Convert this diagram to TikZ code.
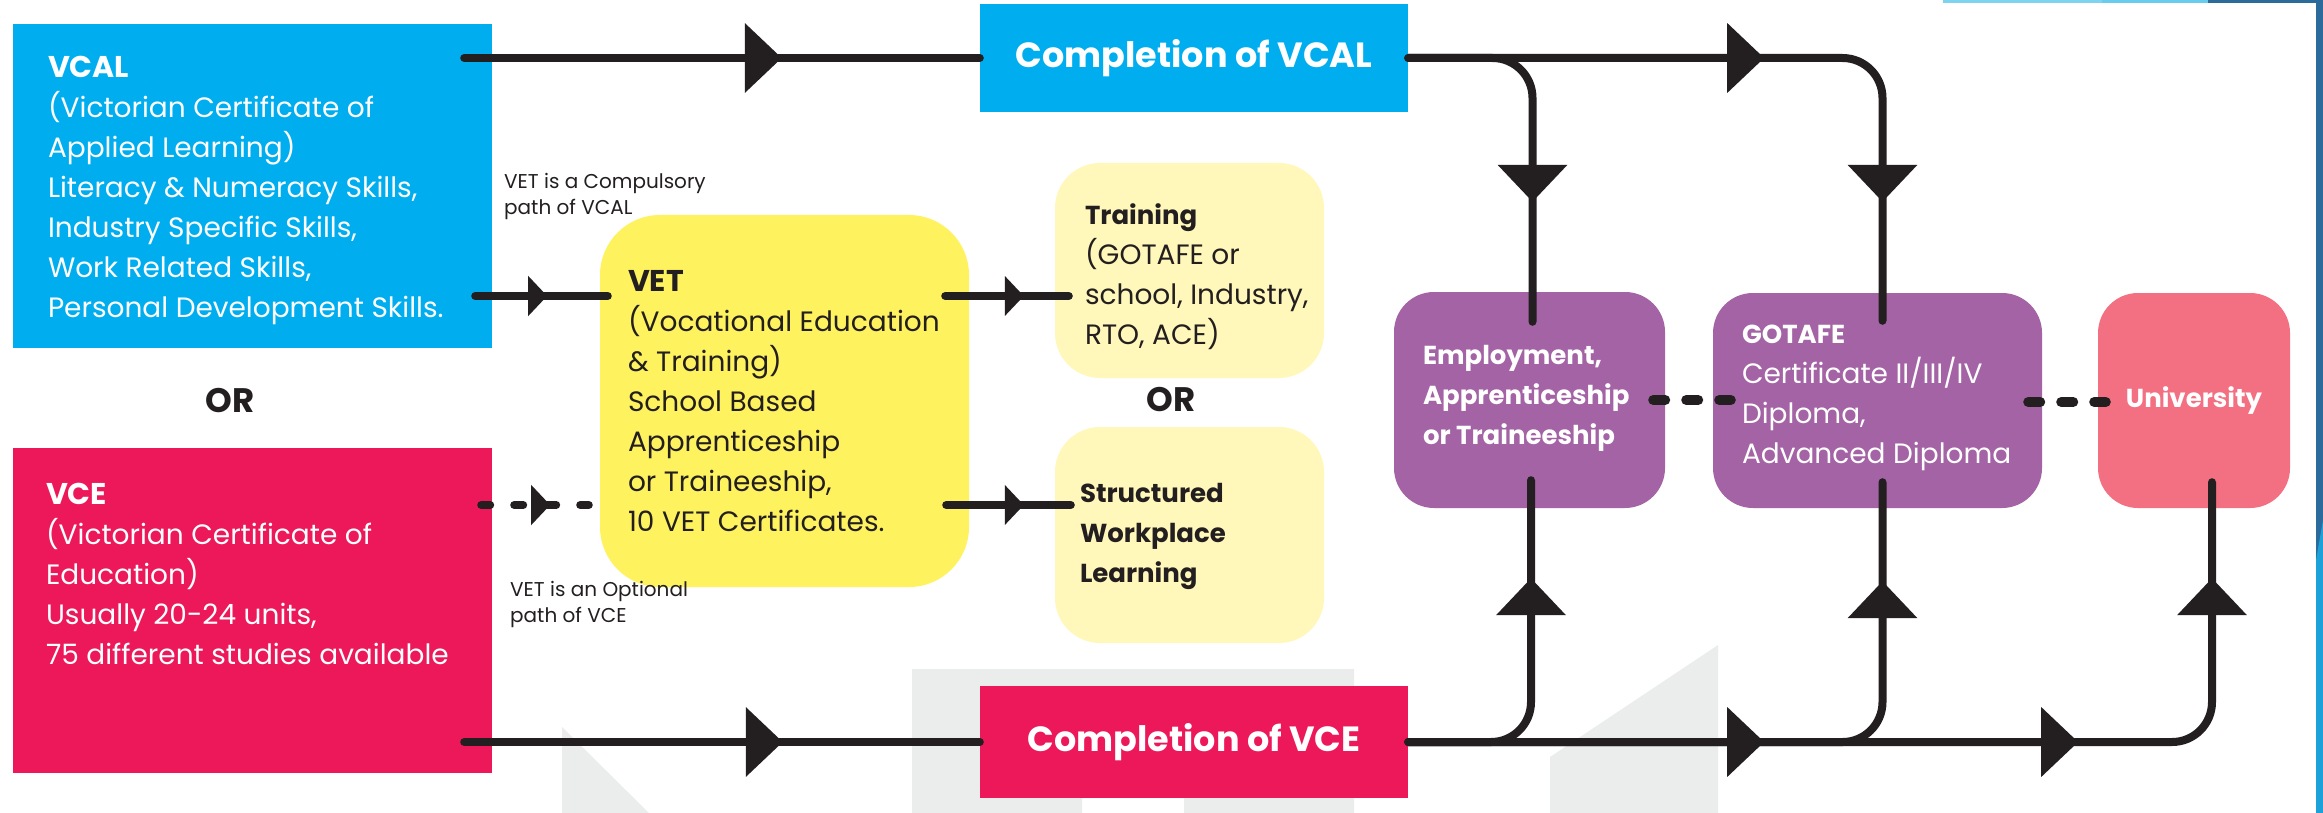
\documentclass[tikz,border=0pt]{standalone}
\usepackage{fontspec}
\setmainfont{Poppins}
\usetikzlibrary{arrows.meta,decorations.markings}

\definecolor{vcalblue}{HTML}{00AEEF}
\definecolor{vcepink}{HTML}{EC185A}
\definecolor{vetyellow}{HTML}{FFF25F}
\definecolor{paleyellow}{HTML}{FFF8BA}
\definecolor{plum}{HTML}{A363A5}
\definecolor{unirose}{HTML}{F27081}
\definecolor{ink}{HTML}{231F20}
\definecolor{ghost}{HTML}{EBEDEC}
\definecolor{edgedark}{HTML}{2A6B9C}
\definecolor{edgelight}{HTML}{1DA1D9}
\definecolor{edgepale}{HTML}{7DD3F0}
\definecolor{edgemid}{HTML}{67CCEE}

\newcommand\boxtitle[1]{{\fontsize{30}{40}\selectfont\bfseries #1}}
\newcommand\boldline[1]{{\fontsize{26}{40}\selectfont\bfseries #1}}

\tikzset{
  card/.style={rectangle, inner sep=0pt},
  words/.style={inner sep=0pt, align=left, font=\fontsize{28}{40}\selectfont},
  boldwords/.style={words, font=\fontsize{26}{40}\selectfont\bfseries},
  flow/.style={draw=ink, line width=8pt, line cap=round},
  bigtip/.style={postaction={decorate, decoration={markings,
      mark=at position #1 with {\arrow{Triangle[length=37pt, width=68pt]}}}}},
  smalltip/.style={postaction={decorate, decoration={markings,
      mark=at position #1 with {\arrow{Triangle[length=19pt, width=39pt]}}}}},
  dotlink/.style={draw=ink, line width=10pt, line cap=round, dash pattern=on 12pt off 21pt},
  note/.style={inner sep=0pt, align=left, text=ink, font=\fontsize{20}{26}\selectfont},
  ortext/.style={text=ink, font=\fontsize{34}{36}\selectfont\bfseries},
  banner/.style={card, text=white, font=\fontsize{35}{40}\selectfont\bfseries},
}

\begin{document}
\begin{tikzpicture}[x=1pt, y=-1pt]
%%% page and watermark %%%
\fill[white] (0,0) rectangle (2323,813);
\fill[ghost] (562,727) -- (649,813) -- (562,813) -- cycle;
\fill[ghost] (912,669) -- (1354,669) -- (1354,813) -- (1184,813) -- (1184,798)
  -- (1082,798) -- (1082,813) -- (912,813) -- cycle;
\fill[ghost] (1550,757) -- (1718,645) -- (1718,813) -- (1550,813) -- cycle;
\fill[edgedark] (2316,0) rectangle (2323,813);
\fill[edgelight] (2316,560) -- (2323,520) -- (2323,813) -- (2316,813) -- cycle;
\fill[edgepale] (1943,0) rectangle (2102,3.5);
\fill[edgemid] (2102,0) rectangle (2208,3.5);
\fill[edgedark] (2208,0) rectangle (2323,3.5);

%%% boxes %%%
\node[card, fill=vcalblue, minimum width=479pt, minimum height=324pt] (vcal) at (252.5,186) {};
\node[card, fill=vcepink, minimum width=479pt, minimum height=325pt] (vce) at (252.5,610.5) {};
\node[card, fill=vetyellow, rounded corners=60pt, minimum width=369pt, minimum height=372pt] (vet) at (784.5,401) {};
\node[card, fill=paleyellow, rounded corners=45pt, minimum width=269pt, minimum height=215pt] (training) at (1189.5,270.5) {};
\node[card, fill=paleyellow, rounded corners=45pt, minimum width=269pt, minimum height=216pt] (structured) at (1189.5,535) {};
\node[card, fill=plum, rounded corners=40pt, minimum width=271pt, minimum height=216pt] (employ) at (1529.5,400) {};
\node[card, fill=plum, rounded corners=40pt, minimum width=329pt, minimum height=215pt] (gotafe) at (1877.5,400.5) {};
\node[card, fill=unirose, rounded corners=40pt, minimum width=192pt, minimum height=215pt, text=white,
  font=\fontsize{26}{30}\selectfont\bfseries] (univ) at (2194,400.5) {University};
\node[banner, fill=vcalblue, minimum width=428pt, minimum height=108pt] (cvcal) at (1194,58) {Completion of VCAL};
\node[banner, fill=vcepink, minimum width=428pt, minimum height=112pt] (cvce) at (1194,742) {Completion of VCE};

%% box texts
\node[words, text=white, anchor=west] (vcal-text) at ([shift={(35,4)}]vcal.west)
  {\boxtitle{VCAL}\\(Victorian Certificate of\\Applied Learning)\\Literacy \& Numeracy Skills,\\
   Industry Specific Skills,\\Work Related Skills,\\Personal Development Skills.};
\node[words, text=white, anchor=north west] (vce-text) at ([shift={(33,35)}]vce.north west)
  {\boxtitle{VCE}\\(Victorian Certificate of\\Education)\\Usually 20-24 units,\\75 different studies available};
\node[words, text=ink, anchor=west] (vet-text) at ([shift={(28,0)}]vet.west)
  {\boxtitle{VET}\\(Vocational Education\\\& Training)\\School Based\\Apprenticeship\\or Traineeship,\\10 VET Certificates.};
\node[words, text=ink, anchor=west] (training-text) at ([shift={(30,6)}]training.west)
  {\boldline{Training}\\(GOTAFE or\\school, Industry,\\RTO, ACE)};
\node[boldwords, text=ink, anchor=west] (structured-text) at ([shift={(25,1)}]structured.west)
  {Structured\\Workplace\\Learning};
\node[boldwords, text=white, anchor=west] (employ-text) at ([shift={(29,-2)}]employ.west)
  {Employment,\\Apprenticeship\\or Traineeship};
\node[words, text=white, anchor=west] (gotafe-text) at ([shift={(29,-3)}]gotafe.west)
  {\boldline{GOTAFE}\\Certificate II/III/IV\\Diploma,\\Advanced Diploma};

%% loose words
\node[ortext] (or-left) at (230,401) {OR};
\node[ortext] (or-right) at (1171,400) {OR};
\node[note, anchor=west] (note-vcal) at (504,196) {VET is a Compulsory\\path of VCAL};
\node[note, anchor=west] (note-vce) at (510,604) {VET is an Optional\\path of VCE};

%%% connectors %%%
% VCAL row
\draw[flow, bigtip=-198pt] ([shift={(-28,-128)}]vcal.east) -- (cvcal.west);
\draw[flow, rounded corners=40pt, bigtip=-120pt] (cvcal.east) -| ([shift={(3,30)}]employ.north);
\draw[flow, rounded corners=40pt, bigtip=356pt, bigtip=-119pt] (cvcal.east) -| ([shift={(5,28)}]gotafe.north);
% VCE row
\draw[flow, bigtip=-197pt] ([shift={(-28,131.5)}]vce.east) -- (cvce.west);
\draw[flow, rounded corners=40pt, bigtip=-98pt] (cvce.east) -| ([shift={(1.5,-28)}]employ.south);
\draw[flow, rounded corners=40pt, bigtip=-99pt] (cvce.east) -| ([shift={(5,-26)}]gotafe.south);
\draw[flow, rounded corners=40pt, bigtip=356pt, bigtip=670pt, bigtip=-96pt] (cvce.east) -| ([shift={(18,-26)}]univ.south);
% into and out of VET
\draw[flow, smalltip=72pt] ([shift={(-17,110)}]vcal.east) -- ([shift={(8,-105)}]vet.west);
\draw[flow, dash pattern=on 9pt off 24pt, smalltip=69pt] ([shift={(-11,-105.5)}]vce.east) -- ([shift={(-11,104)}]vet.west);
\draw[flow, smalltip=-45pt] ([shift={(-24,-105)}]vet.east) -- ([shift={(14,25.5)}]training.west);
\draw[flow, smalltip=-47pt] ([shift={(-23,104)}]vet.east) -- ([shift={(16,-30)}]structured.west);
% dotted links
\draw[dotlink] ([shift={(-12,0)}]employ.east) -- ([shift={(18,-0.5)}]gotafe.west);
\draw[dotlink] ([shift={(-14,1.5)}]gotafe.east) -- ([shift={(8,1.5)}]univ.west);
\end{tikzpicture}
\end{document}
